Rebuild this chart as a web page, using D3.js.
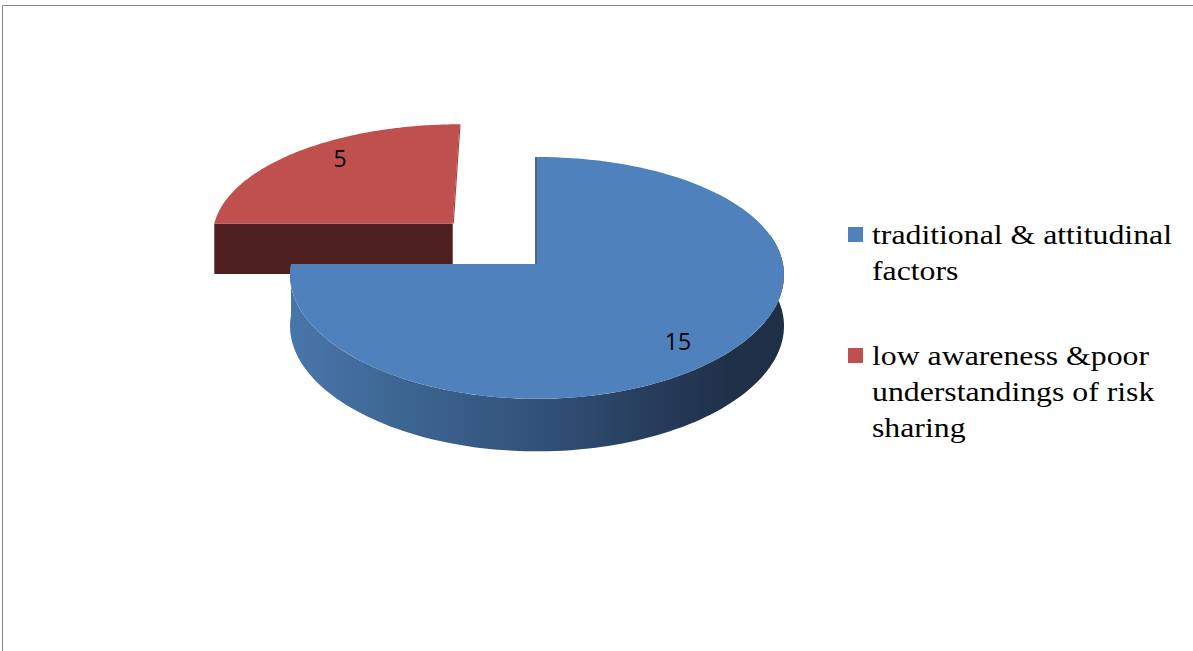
<!DOCTYPE html>
<html>
<head>
<meta charset="utf-8">
<script src="https://cdn.jsdelivr.net/npm/d3@7"></script>
<style>
  html, body { margin: 0; padding: 0; background: #fff; }
  svg { display: block; }
  .legend text { font-family: "Liberation Serif", "Times New Roman", Times, serif; font-size: 28px; }
</style>
</head>
<body>
<svg id="chart" width="1193" height="651"></svg>
<script>
// Data
const categories = ["traditional & attitudinal factors", "low awareness &poor understandings of risk sharing"];
const values = [15, 5];
const legendLines = [["traditional & attitudinal", "factors"], ["low awareness &poor", "understandings of risk", "sharing"]];
const topColors = ["#4f81bd", "#c0504d"];
const faceColors = ["#2a4466", "#4d1f1e"];
const explodeAmount = [0, 0.5];

const svg = d3.select("#chart");
const W = 1193, H = 651;

// frame
svg.append("path")
  .attr("d", `M2.5,${H} L2.5,5.5 L${W},5.5`)
  .attr("fill", "none").attr("stroke", "#868686").attr("stroke-width", 1);

// 3D projection of a tilted disc (unit radius) with mild perspective
const cx = 537, cy = 264;
const SX = 246, SY = 119.3, depth = 51;
const ay = 0.115, ax = 0.09, az = 0.03;
function proj(X, Y, z) {
  const fy = 1 / (1 + ay * Y), fx = 1 / (1 + ax * Y), fz = 1 / (1 + az * Y);
  return [cx + X * SX * fx, cy - Y * SY * fy + z * depth * fz];
}
// point on the rim/radius of a slice; angle in d3.pie convention (0 = 12 o'clock, clockwise)
function pt(angle, r, off, z) {
  return proj(r * Math.sin(angle) + off[0], r * Math.cos(angle) + off[1], z);
}

const pie = d3.pie().sort(null).value(d => d);
const arcs = pie(values).map((a, i) => {
  const mid = (a.startAngle + a.endAngle) / 2;
  const e = explodeAmount[i];
  return { ...a, i, off: [e * Math.sin(mid), e * Math.cos(mid)] };
});

const line = d3.line();
function arcPoints(a0, a1, off, z, n = 120) {
  return d3.range(n + 1).map(k => pt(a0 + (a1 - a0) * k / n, 1, off, z));
}

// side gradient for the front rim
const defs = svg.append("defs");
const grad = defs.append("linearGradient").attr("id", "rimBlue")
  .attr("gradientUnits", "userSpaceOnUse")
  .attr("x1", cx - SX).attr("x2", cx + SX).attr("y1", 0).attr("y2", 0);
[[0, "#4976aa"], [0.2, "#3e6794"], [0.5, "#32527a"], [0.72, "#273e5d"], [0.9, "#1f3049"], [1, "#1e2f46"]]
  .forEach(([o, c]) => grad.append("stop").attr("offset", o).attr("stop-color", c));

const g = svg.append("g");

// draw the exploded (back) slice first, then the big slice in front
const order = [1, 0];
order.forEach(i => {
  const a = arcs[i];
  const off = a.off;
  const sg = g.append("g");

  if (i === 0) {
    // front rim of the large slice
    const a0 = Math.max(a.startAngle, Math.PI * 0.42);
    const a1 = a.endAngle;
    const topPts = arcPoints(a0, a1, off, 0);
    const botPts = arcPoints(a0, a1, off, 1).reverse();
    sg.append("path").attr("d", line(topPts.concat(botPts)) + "Z").attr("fill", "url(#rimBlue)");
    // radial cut at 12 o'clock seen nearly edge-on
    const c0 = pt(0, 0, off, 0), c1 = pt(0, 1, off, 0);
    sg.append("line").attr("x1", c0[0] - 1).attr("y1", c0[1]).attr("x2", c1[0] - 1).attr("y2", c1[1])
      .attr("stroke", "#1f3350").attr("stroke-width", 1.5);
  } else {
    // radial face at the start angle faces the viewer
    const p0 = pt(a.startAngle, 0, off, 0), p1 = pt(a.startAngle, 1, off, 0);
    const p2 = pt(a.startAngle, 1, off, 1), p3 = pt(a.startAngle, 0, off, 1);
    sg.append("path").attr("d", line([p0, p1, p2, p3]) + "Z").attr("fill", faceColors[i]);
    // thin edge along the end-angle cut
    const q0 = pt(a.endAngle, 0, off, 0), q1 = pt(a.endAngle, 1, off, 0);
    sg.append("line").attr("x1", q0[0] + 0.5).attr("y1", q0[1]).attr("x2", q1[0] + 0.5).attr("y2", q1[1])
      .attr("stroke", "#a84542").attr("stroke-width", 1.2);
  }

  // top surface
  const topPath = [pt(0, 0, off, 0)].concat(arcPoints(a.startAngle, a.endAngle, off, 0));
  sg.append("path").attr("d", line(topPath) + "Z").attr("fill", topColors[i]);
});

// value labels
const labelPos = [[678, 350], [340, 167]];
arcs.forEach((a, i) => {
  g.append("text")
    .attr("x", labelPos[i][0]).attr("y", labelPos[i][1])
    .attr("text-anchor", "middle")
    .attr("font-family", "'Open Sans', 'Liberation Sans', sans-serif")
    .attr("font-size", 23)
    .attr("fill", "#000")
    .text(values[i]);
});

// legend (text set slightly wide)
const legend = svg.append("g").attr("class", "legend").attr("fill", "#000");
const legendTop = [244, 365];
const lh = 36;
const textX = 872, stretch = 1.135;
categories.forEach((c, i) => {
  const y0 = legendTop[i];
  legend.append("rect").attr("x", 848).attr("y", y0 - 17).attr("width", 15).attr("height", 15)
    .attr("fill", topColors[i]);
  const t = legend.append("text")
    .attr("transform", `translate(${textX},0) scale(${stretch},1)`)
    .attr("x", 0).attr("y", y0);
  legendLines[i].forEach((ln, k) => {
    t.append("tspan").attr("x", 0).attr("y", y0 + k * lh).text(ln);
  });
});
</script>
</body>
</html>
